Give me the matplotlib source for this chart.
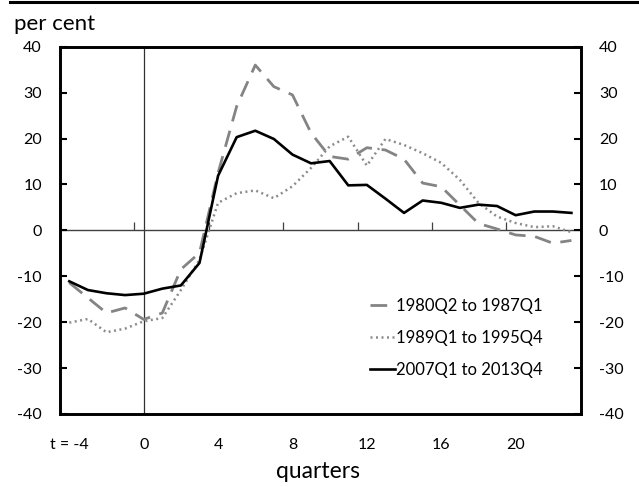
#recession comparison chart: three episodes, quarters from t = -4
import matplotlib
matplotlib.use('Agg')
import matplotlib.pyplot as plt

plt.rcParams['font.family'] = ['Lato', 'DejaVu Sans']
plt.rcParams['axes.unicode_minus'] = False

quarters = list(range(-4, 24))
tick_pos = [-4, 0, 4, 8, 12, 16, 20]
tick_labels = ['t = -4', '0', '4', '8', '12', '16', '20']

ep_1980 = [-11.4, -14.7, -18.0, -16.9, -19.4, -18.0, -8.5, -4.9, 12.5, 27.0,
           36.0, 31.3, 29.5, 21.2, 16.1, 15.5, 18.0, 17.5, 15.5, 10.3,
           9.5, 5.5, 1.5, 0.3, -1.0, -1.3, -2.8, -2.2]
ep_1989 = [-20.1, -19.3, -22.2, -21.4, -19.8, -19.1, -13.0, -6.4, 6.0, 8.1,
           8.7, 7.0, 9.6, 13.6, 18.3, 20.4, 14.1, 19.9, 18.6, 16.8,
           14.7, 11.0, 6.0, 3.0, 1.6, 0.7, 0.9, -0.4]
ep_2007 = [-11.1, -13.0, -13.7, -14.1, -13.8, -12.7, -12.0, -7.1, 11.9, 20.3,
           21.7, 19.9, 16.5, 14.6, 15.1, 9.8, 9.9, 6.9, 3.8, 6.5,
           6.0, 4.9, 5.6, 5.3, 3.3, 4.1, 4.1, 3.8]

fig = plt.figure( figsize=(6.39, 4.87), dpi=100 )
ax = fig.add_axes([0.0939, 0.1499, 0.8149, 0.7542])

ax.plot( quarters, ep_1980, color='#848484', lw=2.0, dashes=(6, 3.5),
         label='1980Q2 to 1987Q1' )
ax.plot( quarters, ep_1989, color='#8c8c8c', lw=1.8, linestyle=(0, (0.8, 1.4)),
         label='1989Q1 to 1995Q4' )
ax.plot( quarters, ep_2007, color='black', lw=1.9, label='2007Q1 to 2013Q4' )

ax.axvline( 0, color='#303030', lw=0.9, zorder=1 )
ax.axhline( 0, color='#404040', lw=1.0, zorder=1 )

ax.set_xlim( -4.5, 23.5 )
ax.set_ylim( -40, 40 )
ax.set_yticks( range(-40, 41, 10) )
ax.set_xticks( tick_pos )
ax.set_xticklabels( tick_labels )
ax.tick_params( axis='x', length=0, pad=17, labelsize=11.5 )
ax.tick_params( axis='y', direction='in', length=5, width=1.5, pad=13, labelsize=11.5 )
for s in ax.spines.values():
    s.set_linewidth( 1.9 )

# ticks along the zero line, between categories
zero_ax = ax.secondary_xaxis( 0.5 )
zero_ax.set_xticks( [-0.5, 3.5, 7.5, 11.5, 15.5, 19.5] )
zero_ax.tick_params( direction='out', length=6, width=0.9, color='#404040',
                     labeltop=False, labelbottom=False )
zero_ax.spines['top'].set_visible( False )

ax2 = ax.twinx()
ax2.set_ylim( -40, 40 )
ax2.set_yticks( range(-40, 41, 10) )
ax2.tick_params( axis='y', direction='in', length=5, width=1.5, pad=13, labelsize=11.5 )
for s in ax2.spines.values():
    s.set_linewidth( 1.9 )

ax.legend( loc='upper left', bbox_to_anchor=(0.595, 0.316), frameon=False,
           borderaxespad=0, borderpad=0, fontsize=12, handlelength=1.5,
           handletextpad=0.1, labelspacing=0.95 )

fig.text( 0.022, 0.9384, 'per cent', fontsize=16, va='baseline', ha='left' )
fig.text( 0.498, 0.0185, 'quarters', fontsize=16.5, va='baseline', ha='center' )
fig.add_artist( plt.Line2D( [0.015, 1.0], [0.995, 0.995], color='black', lw=2.2 ) )

fig.savefig( 'out.png', dpi=100 )
